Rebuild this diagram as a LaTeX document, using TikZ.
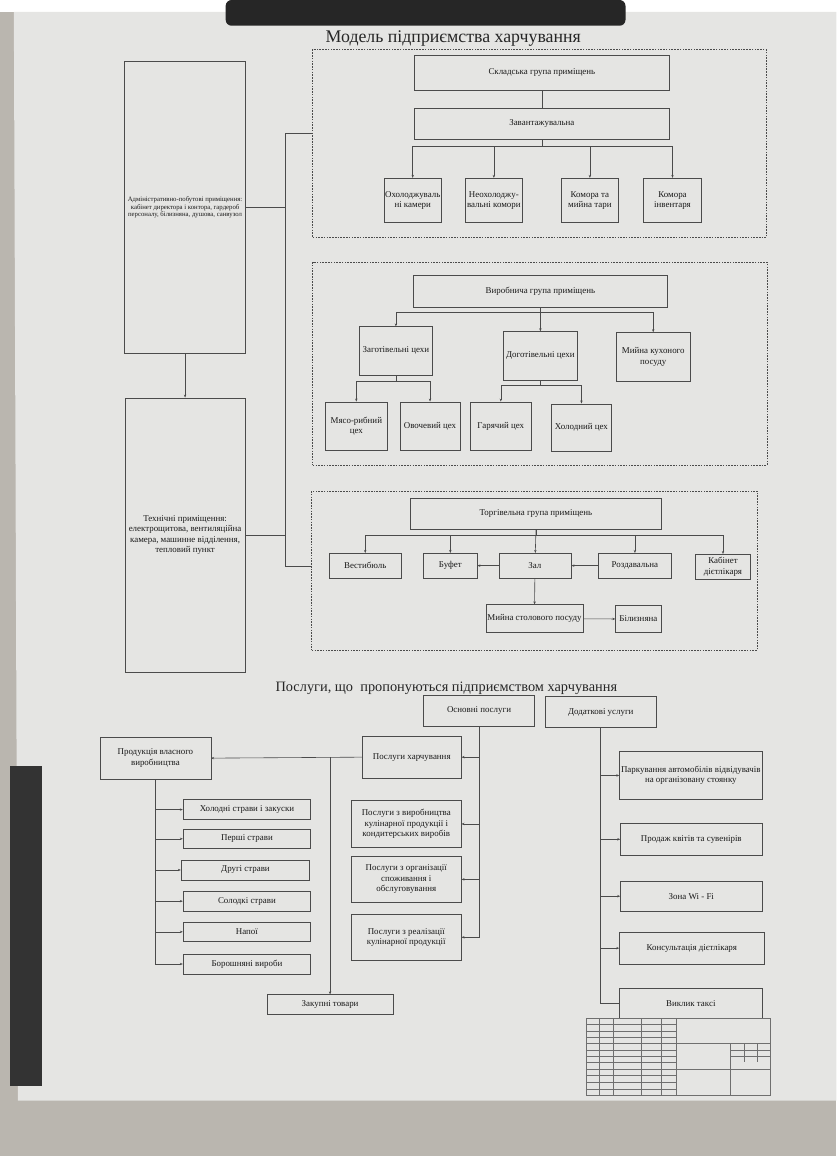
\documentclass[tikz,border=0pt]{standalone}
\usepackage{fontspec}
\setmainfont{Liberation Serif}
\usetikzlibrary{arrows.meta,positioning}
\definecolor{paper}{RGB}{229,229,227}
\definecolor{floor}{RGB}{186,182,175}
\definecolor{ink}{RGB}{75,75,75}
\tikzstyle{box} = [rectangle, draw=ink, fill=paper, align=center, inner sep=1pt,
                   font=\fontsize{9}{10.6}\selectfont, text=black!90]
\tikzstyle{group} = [rectangle, draw=ink, dash pattern=on 1.6pt off 1.2pt]
\tikzstyle{arrow} = [-{Stealth[length=3pt,width=2.4pt]}, draw=ink]
\tikzstyle{line} = [draw=ink]
\tikzset{wh/.style 2 args={minimum width=#1, minimum height=#2}}

\begin{document}
\begin{tikzpicture}[x=1pt, y=-1pt, line width=0.6pt]
    % photo background
    \fill [floor] (0,0) rectangle (845,1156);
    \fill [paper] (14,0) -- (845,0) -- (845,1100) -- (18,1100) -- cycle;
    \fill [black!85, rounded corners=6pt] (228,-12) rectangle (632,14);
    \fill [black!80] (10,762) rectangle (42,1085);

    \node [font=\fontsize{18}{21}\selectfont, text=black!85] (title) at (458,27) {Модель підприємства харчування};

    % left column
    \node [box, wh={122}{295}, font=\fontsize{6.8}{8}\selectfont] (admin) at (187,197.5)
        {Адміністративно-побутові приміщення:\\кабінет директора і контора, гардероб\\персоналу, білизняна, душова, санвузол};
    \node [box, wh={121}{277}] (tech) at (187,528.5)
        {Технічні приміщення:\\електрощитова, вентиляційна\\камера, машинне відділення,\\тепловий пункт};
    \draw [arrow] (admin) -- (tech);

    % groups
    \node [group, wh={458}{190}] (storage) at (545,133) {};
    \node [group, wh={459}{205}] (prodgr) at (545.5,355.5) {};
    \node [group, wh={450}{161}] (trade) at (540,564.5) {};

    \coordinate (bustop) at (288,123);
    \coordinate (busbot) at (288,560);
    \draw [line] (bustop) -- (busbot);
    \draw [line] (bustop) -- (bustop -| storage.west);
    \draw [line] (busbot) -- (busbot -| trade.west);
    \draw [line] (admin.east) -- (admin.east -| bustop);
    \draw [line] (tech.east) -- (tech.east -| bustop);

    % storage group
    \node [box, wh={257}{35}] (sklad) at (547.5,61.5) {Складська група приміщень};
    \node [box, wh={257}{32}] (zavant) at (547.5,113) {Завантажувальна};
    \node [box, wh={58}{45}] (ohol) at (417,190.5) {Охолоджуваль\\ні камери};
    \node [box, wh={58}{45}] (neohol) at (499,190.5) {Неохолоджу-\\вальні комори};
    \node [box, wh={58}{45}] (komtar) at (596,190.5) {Комора та\\мийна тари};
    \node [box, wh={59}{45}] (kominv) at (679.5,190.5) {Комора\\інвентаря};
    \draw [line] (sklad) -- (zavant);
    \draw [arrow] (zavant.south) -- ++(0,7) -| (ohol);
    \draw [arrow] (zavant.south) -- ++(0,7) -| (neohol);
    \draw [arrow] (zavant.south) -- ++(0,7) -| (komtar);
    \draw [arrow] (zavant.south) -- ++(0,7) -| (kominv);

    % production group
    \node [box, wh={256}{32}] (virob) at (546,282) {Виробнича група приміщень};
    \node [box, wh={74}{49}] (zagot) at (400,342.5) {Заготівельні цехи};
    \node [box, wh={74}{49}] (dogot) at (546,347.5) {Доготівельні цехи};
    \node [box, wh={74}{49}] (miyka) at (660,348.5) {Мийна кухоного\\посуду};
    \node [box, wh={62}{49}] (myaso) at (360,418.5) {Мясо-рибний\\цех};
    \node [box, wh={61}{49}] (ovoch) at (434.5,418.5) {Овочевий цех};
    \node [box, wh={62}{49}] (garyach) at (506,418.5) {Гарячий цех};
    \node [box, wh={61}{48}] (holod) at (587.5,420) {Холодний цех};
    \draw [arrow] (virob.south) -- ++(0,5) -| (zagot);
    \draw [arrow] (virob.south) -- (dogot);
    \draw [arrow] (virob.south) -- ++(0,5) -| (miyka);
    \draw [arrow] (zagot.south) -- ++(0,6) -| (myaso);
    \draw [arrow] (zagot.south) -- ++(0,6) -| (ovoch);
    \draw [arrow] (dogot.south) -- ++(0,5) -| (garyach);
    \draw [arrow] (dogot.south) -- ++(0,5) -| (holod);

    % trade group
    \node [box, wh={253}{32}] (torg) at (541.5,507) {Торгівельна група приміщень};
    \node [box, wh={72}{25}] (vest) at (369,559.5) {Вестибюль};
    \node [box, wh={54}{25}] (bufet) at (455,559.5) {Буфет};
    \node [box, wh={73}{25}] (zal) at (540.5,559.5) {Зал};
    \node [box, wh={73}{25}] (rozd) at (641.5,559.5) {Роздавальна};
    \node [box, wh={55}{25}] (kab) at (730.5,560.5) {Кабінет\\дієтлікаря};
    \node [box, wh={98}{28}] (miyst) at (540,613) {Мийна столового посуду};
    \node [box, wh={46}{27}] (bilyz) at (645,613.5) {Білизняна};
    \draw [arrow] (torg.south) -- ++(0,6) -| (vest);
    \draw [arrow] (torg.south) -- ++(0,6) -| (bufet);
    \draw [arrow] (torg.south) -- (zal);
    \draw [arrow] (torg.south) -- ++(0,6) -| (rozd);
    \draw [arrow] (torg.south) -- ++(0,6) -| (kab);
    \draw [arrow] (zal) -- (bufet);
    \draw [arrow] (rozd) -- (zal);
    \draw [arrow] (zal) -- (miyst);
    \draw [arrow] (miyst) -- (bilyz);

    % services
    \node [font=\fontsize{14.5}{17}\selectfont, text=black!85] (title2) at (451,683) {Послуги, що\ \ пропонуються підприємством харчування};
    \node [box, wh={112}{32}] (osn) at (484,706) {Основні послуги};
    \node [box, wh={112}{31}] (dod) at (607,707.5) {Додаткові услуги};
    \node [box, wh={100}{42}] (harch) at (416,753) {Послуги харчування};
    \node [box, wh={111}{47}] (virobn) at (410.5,820.5) {Послуги з виробництва\\кулінарної продукції і\\кондитерських виробів};
    \node [box, wh={111}{47}] (organ) at (410.5,876.5) {Послуги з організації\\споживання і\\обслуговування};
    \node [box, wh={111}{46}] (realiz) at (410.5,935) {Послуги з реалізації\\кулінарної продукції};
    \draw [arrow] (osn.south) |- (realiz.east);
    \draw [arrow] (osn.south |- harch.east) -- (harch.east);
    \draw [arrow] (osn.south |- virobn.east) -- (virobn.east);
    \draw [arrow] (osn.south |- organ.east) -- (organ.east);

    \node [box, wh={112}{42}] (vlasn) at (157,754) {Продукція власного\\виробництва};
    \node [box, wh={127}{20}] (zakup) at (333.5,1003) {Закупні товари};
    \draw [arrow] (harch.west) -- (vlasn.east);
    \draw [arrow] (harch.west -| zakup.north) -- (zakup.north);

    \node [box, wh={129}{20}] (holodni) at (249.5,806) {Холодні страви і закуски};
    \node [box, wh={129}{20}] (pershi) at (249.5,835.5) {Перші страви};
    \node [box, wh={130}{20}] (drugi) at (248,867) {Другі страви};
    \node [box, wh={129}{20}] (solod) at (249.5,898.5) {Солодкі страви};
    \node [box, wh={129}{20}] (napoi) at (249.5,929.5) {Напої};
    \node [box, wh={129}{20}] (borosh) at (249.5,962) {Борошняні вироби};
    \draw [arrow] (vlasn.south) |- (borosh.west);
    \foreach \n in {holodni,pershi,drugi,solod,napoi}
        \draw [arrow] (vlasn.south |- \n.west) -- (\n.west);

    \node [box, wh={144}{49}] (park) at (698,771.5) {Паркування автомобілів відвідувачів\\на організовану стоянку};
    \node [box, wh={143}{32}] (kvity) at (698.5,836) {Продаж квітів та сувенірів};
    \node [box, wh={143}{31}] (wifi) at (698.5,893.5) {Зона Wi - Fi};
    \node [box, wh={146}{32}] (kons) at (699,946) {Консультація дієтлікаря};
    \node [box, wh={144}{30}] (taxi) at (698,1002) {Виклик таксі};
    \draw [line] (dod.south) |- (taxi.west);
    \foreach \n in {park,kvity,wifi,kons}
        \draw [arrow] (dod.south |- \n.west) -- (\n.west);

    % title block
    \begin{scope}[draw=ink!80, line width=0.4pt]
        \draw (592,1017) rectangle (778,1095);
        \foreach \x in {605,620,648,668,683} \draw (\x,1017) -- (\x,1095);
        \foreach \y in {1023,1030,1036,1042,1049,1055,1061,1068,1074,1081,1088} \draw (592,\y) -- (683,\y);
        \draw (683,1042) -- (778,1042);
        \draw (683,1068) -- (778,1068);
        \draw (738,1042) -- (738,1095);
        \draw (738,1049) -- (778,1049);
        \draw (738,1055) -- (778,1055);
        \draw (752,1042) -- (752,1061);
        \draw (765,1042) -- (765,1061);
    \end{scope}
\end{tikzpicture}
\end{document}
